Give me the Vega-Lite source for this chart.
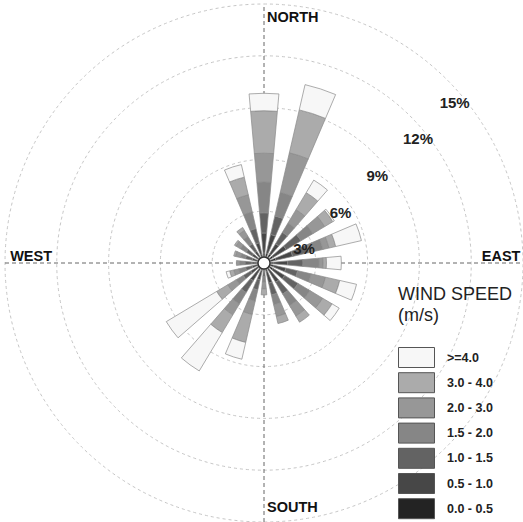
{
 "$schema": "https://vega.github.io/schema/vega-lite/v6.json",
 "width": 518, "height": 518,
 "padding": {"left": 5, "top": 4, "right": 0, "bottom": 0},
 "autosize": {"type": "none"},
 "background": "white",
 "config": {"view": {"stroke": null}, "font": "Liberation Sans"},
 "datasets": {
  "rings": [{"r":3,"lab":"3%"},{"r":6,"lab":"6%"},{"r":9,"lab":"9%"},{"r":12,"lab":"12%"},{"r":15,"lab":"15%"}],
  "wind": [
   {"d":0,"k":0,"s":"0.0 - 0.5","v":0.58},{"d":0,"k":1,"s":"0.5 - 1.0","v":1.16},{"d":0,"k":2,"s":"1.0 - 1.5","v":1.17},{"d":0,"k":3,"s":"1.5 - 2.0","v":1.78},{"d":0,"k":4,"s":"2.0 - 3.0","v":1.67},{"d":0,"k":5,"s":"3.0 - 4.0","v":2.46},{"d":0,"k":6,"s":">=4.0","v":1.01},
   {"d":18,"k":0,"s":"0.0 - 0.5","v":0.6},{"d":18,"k":1,"s":"0.5 - 1.0","v":1.1},{"d":18,"k":2,"s":"1.0 - 1.5","v":1.1},{"d":18,"k":3,"s":"1.5 - 2.0","v":1.4},{"d":18,"k":4,"s":"2.0 - 3.0","v":2.35},{"d":18,"k":5,"s":"3.0 - 4.0","v":2.55},{"d":18,"k":6,"s":">=4.0","v":1.5},
   {"d":36,"k":0,"s":"0.0 - 0.5","v":0.6},{"d":36,"k":1,"s":"0.5 - 1.0","v":0.7},{"d":36,"k":2,"s":"1.0 - 1.5","v":0.77},{"d":36,"k":3,"s":"1.5 - 2.0","v":0.63},{"d":36,"k":4,"s":"2.0 - 3.0","v":0.9},{"d":36,"k":5,"s":"3.0 - 4.0","v":1.15},{"d":36,"k":6,"s":">=4.0","v":0.85},
   {"d":54,"k":0,"s":"0.0 - 0.5","v":0.6},{"d":54,"k":1,"s":"0.5 - 1.0","v":0.9},{"d":54,"k":2,"s":"1.0 - 1.5","v":1.0},{"d":54,"k":3,"s":"1.5 - 2.0","v":0.8},{"d":54,"k":4,"s":"2.0 - 3.0","v":0.8},{"d":54,"k":5,"s":"3.0 - 4.0","v":0.55},{"d":54,"k":6,"s":">=4.0","v":0.1},
   {"d":72,"k":0,"s":"0.0 - 0.5","v":0.7},{"d":72,"k":1,"s":"0.5 - 1.0","v":1.0},{"d":72,"k":2,"s":"1.0 - 1.5","v":0.99},{"d":72,"k":3,"s":"1.5 - 2.0","v":0.81},{"d":72,"k":4,"s":"2.0 - 3.0","v":0.36},{"d":72,"k":5,"s":"3.0 - 4.0","v":0.4},{"d":72,"k":6,"s":">=4.0","v":1.53},
   {"d":90,"k":0,"s":"0.0 - 0.5","v":0.55},{"d":90,"k":1,"s":"0.5 - 1.0","v":0.82},{"d":90,"k":2,"s":"1.0 - 1.5","v":0.89},{"d":90,"k":3,"s":"1.5 - 2.0","v":0.93},{"d":90,"k":4,"s":"2.0 - 3.0","v":0.23},{"d":90,"k":5,"s":"3.0 - 4.0","v":0.2},{"d":90,"k":6,"s":">=4.0","v":0.86},
   {"d":108,"k":0,"s":"0.0 - 0.5","v":0.6},{"d":108,"k":1,"s":"0.5 - 1.0","v":0.7},{"d":108,"k":2,"s":"1.0 - 1.5","v":0.7},{"d":108,"k":3,"s":"1.5 - 2.0","v":0.8},{"d":108,"k":4,"s":"2.0 - 3.0","v":0.85},{"d":108,"k":5,"s":"3.0 - 4.0","v":0.85},{"d":108,"k":6,"s":">=4.0","v":1.0},
   {"d":126,"k":0,"s":"0.0 - 0.5","v":0.6},{"d":126,"k":1,"s":"0.5 - 1.0","v":0.8},{"d":126,"k":2,"s":"1.0 - 1.5","v":0.9},{"d":126,"k":3,"s":"1.5 - 2.0","v":0.8},{"d":126,"k":4,"s":"2.0 - 3.0","v":0.86},{"d":126,"k":5,"s":"3.0 - 4.0","v":0.64},{"d":126,"k":6,"s":">=4.0","v":0.48},
   {"d":144,"k":0,"s":"0.0 - 0.5","v":0.5},{"d":144,"k":1,"s":"0.5 - 1.0","v":0.8},{"d":144,"k":2,"s":"1.0 - 1.5","v":0.8},{"d":144,"k":3,"s":"1.5 - 2.0","v":0.78},{"d":144,"k":4,"s":"2.0 - 3.0","v":0.7},{"d":144,"k":5,"s":"3.0 - 4.0","v":0.42},
   {"d":162,"k":0,"s":"0.0 - 0.5","v":0.5},{"d":162,"k":1,"s":"0.5 - 1.0","v":0.7},{"d":162,"k":2,"s":"1.0 - 1.5","v":0.7},{"d":162,"k":3,"s":"1.5 - 2.0","v":0.58},{"d":162,"k":4,"s":"2.0 - 3.0","v":0.7},{"d":162,"k":5,"s":"3.0 - 4.0","v":0.42},
   {"d":180,"k":0,"s":"0.0 - 0.5","v":0.25},{"d":180,"k":1,"s":"0.5 - 1.0","v":0.25},{"d":180,"k":2,"s":"1.0 - 1.5","v":0.3},{"d":180,"k":3,"s":"1.5 - 2.0","v":0.3},{"d":180,"k":4,"s":"2.0 - 3.0","v":0.4},{"d":180,"k":5,"s":"3.0 - 4.0","v":0.35},
   {"d":198,"k":0,"s":"0.0 - 0.5","v":0.45},{"d":198,"k":1,"s":"0.5 - 1.0","v":0.55},{"d":198,"k":2,"s":"1.0 - 1.5","v":0.6},{"d":198,"k":3,"s":"1.5 - 2.0","v":0.67},{"d":198,"k":4,"s":"2.0 - 3.0","v":0.79},{"d":198,"k":5,"s":"3.0 - 4.0","v":1.66},{"d":198,"k":6,"s":">=4.0","v":1.0},
   {"d":216,"k":0,"s":"0.0 - 0.5","v":0.5},{"d":216,"k":1,"s":"0.5 - 1.0","v":0.7},{"d":216,"k":2,"s":"1.0 - 1.5","v":0.8},{"d":216,"k":3,"s":"1.5 - 2.0","v":0.77},{"d":216,"k":4,"s":"2.0 - 3.0","v":0.73},{"d":216,"k":5,"s":"3.0 - 4.0","v":1.2},{"d":216,"k":6,"s":">=4.0","v":2.59},
   {"d":234,"k":0,"s":"0.0 - 0.5","v":0.4},{"d":234,"k":1,"s":"0.5 - 1.0","v":0.5},{"d":234,"k":2,"s":"1.0 - 1.5","v":0.5},{"d":234,"k":3,"s":"1.5 - 2.0","v":0.48},{"d":234,"k":4,"s":"2.0 - 3.0","v":0.57},{"d":234,"k":5,"s":"3.0 - 4.0","v":0.75},{"d":234,"k":6,"s":">=4.0","v":3.4},
   {"d":252,"k":0,"s":"0.0 - 0.5","v":0.3},{"d":252,"k":1,"s":"0.5 - 1.0","v":0.4},{"d":252,"k":2,"s":"1.0 - 1.5","v":0.4},{"d":252,"k":3,"s":"1.5 - 2.0","v":0.4},{"d":252,"k":4,"s":"2.0 - 3.0","v":0.3},{"d":252,"k":5,"s":"3.0 - 4.0","v":0.24},{"d":252,"k":6,"s":">=4.0","v":0.21},
   {"d":270,"k":0,"s":"0.0 - 0.5","v":0.3},{"d":270,"k":1,"s":"0.5 - 1.0","v":0.4},{"d":270,"k":2,"s":"1.0 - 1.5","v":0.4},{"d":270,"k":3,"s":"1.5 - 2.0","v":0.3},{"d":270,"k":4,"s":"2.0 - 3.0","v":0.2},
   {"d":288,"k":0,"s":"0.0 - 0.5","v":0.3},{"d":288,"k":1,"s":"0.5 - 1.0","v":0.4},{"d":288,"k":2,"s":"1.0 - 1.5","v":0.4},{"d":288,"k":3,"s":"1.5 - 2.0","v":0.3},{"d":288,"k":4,"s":"2.0 - 3.0","v":0.3},{"d":288,"k":5,"s":"3.0 - 4.0","v":0.1},
   {"d":306,"k":0,"s":"0.0 - 0.5","v":0.3},{"d":306,"k":1,"s":"0.5 - 1.0","v":0.5},{"d":306,"k":2,"s":"1.0 - 1.5","v":0.4},{"d":306,"k":3,"s":"1.5 - 2.0","v":0.4},{"d":306,"k":4,"s":"2.0 - 3.0","v":0.3},{"d":306,"k":5,"s":"3.0 - 4.0","v":0.1},
   {"d":324,"k":0,"s":"0.0 - 0.5","v":0.3},{"d":324,"k":1,"s":"0.5 - 1.0","v":0.5},{"d":324,"k":2,"s":"1.0 - 1.5","v":0.5},{"d":324,"k":3,"s":"1.5 - 2.0","v":0.5},{"d":324,"k":4,"s":"2.0 - 3.0","v":0.4},{"d":324,"k":5,"s":"3.0 - 4.0","v":0.2},
   {"d":342,"k":0,"s":"0.0 - 0.5","v":0.5},{"d":342,"k":1,"s":"0.5 - 1.0","v":0.7},{"d":342,"k":2,"s":"1.0 - 1.5","v":0.85},{"d":342,"k":3,"s":"1.5 - 2.0","v":0.99},{"d":342,"k":4,"s":"2.0 - 3.0","v":1.01},{"d":342,"k":5,"s":"3.0 - 4.0","v":1.05},{"d":342,"k":6,"s":">=4.0","v":0.75}
  ]
 },
 "layer": [
  {
   "data": {"name": "rings"},
   "mark": {"type": "arc", "theta": 0, "theta2": 6.2832, "fill": "white", "fillOpacity": 0, "stroke": "#c6c6c6", "strokeWidth": 1, "strokeDash": [3, 3]},
   "encoding": {
    "radius": {"field": "r", "type": "quantitative", "stack": null, "scale": {"type": "linear", "domain": [0, 15], "range": [0, 259], "zero": true, "nice": false}}
   }
  },
  {
   "data": {"values": [{}]},
   "mark": {"type": "rule", "stroke": "#666666", "strokeWidth": 1, "strokeDash": [4, 3]},
   "encoding": {
    "x": {"datum": 0, "type": "quantitative", "scale": {"domain": [-15, 15], "nice": false, "zero": false}, "axis": null},
    "y": {"datum": -15, "type": "quantitative", "scale": {"domain": [-15, 15], "nice": false, "zero": false}, "axis": null},
    "y2": {"datum": 15}
   }
  },
  {
   "data": {"values": [{}]},
   "mark": {"type": "rule", "stroke": "#666666", "strokeWidth": 1, "strokeDash": [4, 3]},
   "encoding": {
    "y": {"datum": 0, "type": "quantitative", "scale": {"domain": [-15, 15], "nice": false, "zero": false}, "axis": null},
    "x": {"datum": -15, "type": "quantitative", "scale": {"domain": [-15, 15], "nice": false, "zero": false}, "axis": null},
    "x2": {"datum": 15}
   }
  },
  {
   "data": {"name": "wind"},
   "mark": {"type": "arc", "stroke": "#8a8a8a", "strokeWidth": 0.7},
   "encoding": {
    "theta": {"field": "d", "type": "nominal", "scale": {"type": "band", "domain": [0,18,36,54,72,90,108,126,144,162,180,198,216,234,252,270,288,306,324,342], "range": [-0.15708, 6.12611], "paddingInner": 0.44, "paddingOuter": 0.22}},
    "radius": {"field": "v", "type": "quantitative", "stack": "zero", "scale": {"type": "linear", "domain": [0, 15], "range": [0, 259], "zero": true, "nice": false}},
    "order": {"field": "k", "type": "quantitative"},
    "color": {
     "field": "s", "type": "nominal",
     "scale": {"domain": [">=4.0","3.0 - 4.0","2.0 - 3.0","1.5 - 2.0","1.0 - 1.5","0.5 - 1.0","0.0 - 0.5"], "range": ["#f7f7f7","#ababab","#979797","#868686","#636363","#474747","#232323"]},
     "legend": {
      "orient": "none", "legendX": 393, "legendY": 282,
      "title": ["WIND SPEED", "(m/s)"],
      "titleFont": "Liberation Sans", "titleFontSize": 18, "titleFontWeight": "normal", "titleColor": "#222222", "titleLineHeight": 21, "titlePadding": 22,
      "symbolType": "M-1,-1H2.6V1H-1Z", "symbolSize": 400, "symbolStrokeColor": "#555555", "symbolStrokeWidth": 1, "symbolOpacity": 1,
      "labelFont": "Liberation Sans", "labelFontSize": 12.5, "labelFontWeight": "bold", "labelColor": "#222222", "labelOffset": 28,
      "rowPadding": 0.2
     }
    }
   }
  },
  {
   "data": {"values": [{}]},
   "mark": {"type": "arc", "theta": 0, "theta2": 6.2832, "fill": "white", "stroke": "#333333", "strokeWidth": 1.5},
   "encoding": {
    "radius": {"datum": 0.35, "type": "quantitative", "stack": null, "scale": {"type": "linear", "domain": [0, 15], "range": [0, 259], "zero": true, "nice": false}}
   }
  },
  {
   "data": {"name": "rings"},
   "mark": {"type": "text", "align": "left", "baseline": "middle", "dx": -7.5, "dy": 23, "fontSize": 15, "fontWeight": "bold", "font": "Liberation Sans", "color": "#222222"},
   "encoding": {
    "theta": {"value": 0.7854},
    "radius": {"field": "r", "type": "quantitative", "stack": null, "scale": {"type": "linear", "domain": [0, 15], "range": [0, 259], "zero": true, "nice": false}},
    "text": {"field": "lab"}
   }
  },
  {
   "data": {"values": [{}]},
   "mark": {"type": "text", "text": "NORTH", "align": "left", "baseline": "middle", "dx": 3, "fontSize": 14.5, "fontWeight": "bold", "color": "#111111"},
   "encoding": {
    "x": {"datum": 0, "type": "quantitative", "scale": {"domain": [-15, 15], "nice": false, "zero": false}, "axis": null},
    "y": {"datum": 14.2, "type": "quantitative", "scale": {"domain": [-15, 15], "nice": false, "zero": false}, "axis": null}
   }
  },
  {
   "data": {"values": [{}]},
   "mark": {"type": "text", "text": "SOUTH", "align": "left", "baseline": "middle", "dx": 3, "fontSize": 14.5, "fontWeight": "bold", "color": "#111111"},
   "encoding": {
    "x": {"datum": 0, "type": "quantitative", "scale": {"domain": [-15, 15], "nice": false, "zero": false}, "axis": null},
    "y": {"datum": -14.2, "type": "quantitative", "scale": {"domain": [-15, 15], "nice": false, "zero": false}, "axis": null}
   }
  },
  {
   "data": {"values": [{}]},
   "mark": {"type": "text", "text": "WEST", "align": "left", "baseline": "alphabetic", "dy": -2, "fontSize": 14.5, "fontWeight": "bold", "color": "#111111"},
   "encoding": {
    "x": {"datum": -14.7, "type": "quantitative", "scale": {"domain": [-15, 15], "nice": false, "zero": false}, "axis": null},
    "y": {"datum": 0, "type": "quantitative", "scale": {"domain": [-15, 15], "nice": false, "zero": false}, "axis": null}
   }
  },
  {
   "data": {"values": [{}]},
   "mark": {"type": "text", "text": "EAST", "align": "right", "baseline": "alphabetic", "dy": -2, "fontSize": 14.5, "fontWeight": "bold", "color": "#111111"},
   "encoding": {
    "x": {"datum": 14.85, "type": "quantitative", "scale": {"domain": [-15, 15], "nice": false, "zero": false}, "axis": null},
    "y": {"datum": 0, "type": "quantitative", "scale": {"domain": [-15, 15], "nice": false, "zero": false}, "axis": null}
   }
  }
 ]
}
